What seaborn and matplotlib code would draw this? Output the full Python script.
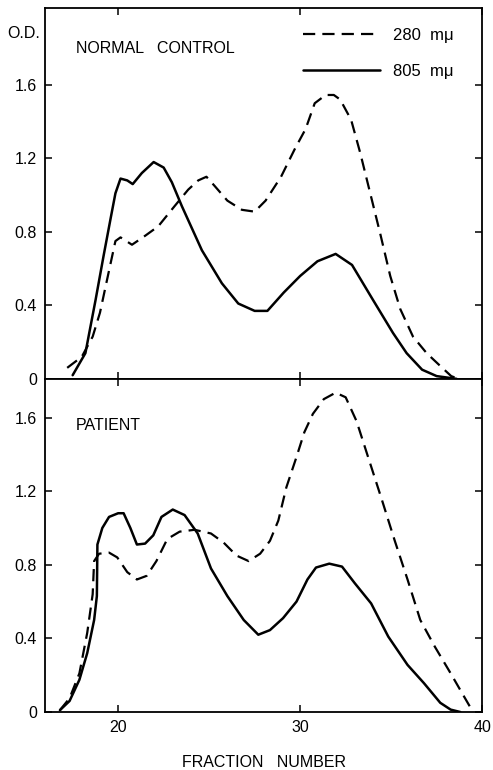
import numpy as np
import pandas as pd
import matplotlib
matplotlib.use('Agg')
import matplotlib.pyplot as plt
import seaborn as sns

# Values (fraction number vs O.D.)
ctrl_280_x = [17.2, 18.0, 18.6, 19.0, 19.5, 19.85, 20.13, 20.76, 21.5, 22.2, 23.1, 23.85,
              24.4, 24.85, 25.3, 26.0, 26.8, 27.5, 28.1, 28.95, 29.7, 30.3, 30.8, 31.4,
              31.85, 32.2, 32.8, 33.3, 33.85, 34.4, 34.95, 35.5, 36.2, 36.95, 37.7, 38.3,
              38.7]
ctrl_280_y = [0.06, 0.12, 0.23, 0.36, 0.59, 0.75, 0.77, 0.73, 0.78, 0.83, 0.94, 1.03,
              1.08, 1.10, 1.05, 0.97, 0.92, 0.91, 0.97, 1.10, 1.25, 1.36, 1.50, 1.545,
              1.545, 1.52, 1.41, 1.23, 1.01, 0.79, 0.56, 0.38, 0.23, 0.14, 0.07, 0.015,
              0.0]

ctrl_805_x = [17.5, 18.2, 18.76, 19.2, 19.58, 19.85, 20.13, 20.5, 20.8, 21.3, 21.95, 22.5,
              22.95, 23.5, 24.6, 25.7, 26.6, 27.5, 28.2, 29.1, 30.0, 30.95, 31.95, 32.85,
              34.0, 35.1, 35.85, 36.7, 37.5, 38.6]
ctrl_805_y = [0.02, 0.14, 0.43, 0.67, 0.87, 1.01, 1.09, 1.08, 1.06, 1.12, 1.18, 1.15,
              1.07, 0.94, 0.70, 0.52, 0.41, 0.37, 0.37, 0.47, 0.56, 0.64, 0.68, 0.62,
              0.43, 0.25, 0.14, 0.05, 0.015, 0.0]

pat_280_x = [16.8, 17.33, 17.87, 18.3, 18.6, 18.68, 18.95, 19.5, 19.95, 20.5, 21.03, 21.57,
             22.1, 22.7, 23.38, 24.2, 25.1, 25.8, 26.5, 27.17, 27.8, 28.34, 28.8, 29.24,
             29.78, 30.23, 30.7, 31.3, 31.95, 32.5, 33.1, 33.75, 34.5, 35.2, 35.9, 36.6,
             37.4, 38.27, 39.0, 39.5]
pat_280_y = [0.01, 0.075, 0.21, 0.43, 0.64, 0.82, 0.86, 0.866, 0.84, 0.76, 0.72, 0.74,
             0.82, 0.94, 0.98, 0.99, 0.97, 0.92, 0.85, 0.82, 0.86, 0.93, 1.04, 1.22,
             1.38, 1.52, 1.62, 1.70, 1.735, 1.71, 1.58, 1.38, 1.15, 0.93, 0.72, 0.50,
             0.355, 0.21, 0.085, 0.0]

pat_805_x = [16.8, 17.33, 17.87, 18.3, 18.68, 18.83, 18.86, 19.13, 19.5, 20.0, 20.3, 20.67,
             21.03, 21.48, 21.93, 22.38, 23.0, 23.65, 24.37, 25.1, 26.0, 26.9, 27.7, 28.34,
             29.06, 29.8, 30.4, 30.87, 31.6, 32.3, 33.0, 33.9, 34.84, 35.9, 36.8, 37.7,
             38.27, 38.8]
pat_805_y = [0.01, 0.06, 0.175, 0.32, 0.50, 0.63, 0.91, 1.00, 1.06, 1.08, 1.08, 1.00,
             0.91, 0.915, 0.96, 1.06, 1.10, 1.07, 0.97, 0.78, 0.63, 0.50, 0.42, 0.445,
             0.51, 0.60, 0.72, 0.785, 0.806, 0.79, 0.70, 0.59, 0.41, 0.256, 0.157, 0.05,
             0.013, 0.0]

x_ticks = [20, 30, 40]
y_ticks = [0, 0.4, 0.8, 1.2, 1.6]
y_tick_labels = ['0', '0.4', '0.8', '1.2', '1.6']

sns.set_style('ticks')
plt.rcParams['font.family'] = ['Liberation Sans', 'DejaVu Sans']
plt.rcParams['text.color'] = 'black'
plt.rcParams['axes.labelcolor'] = 'black'
plt.rcParams['xtick.color'] = 'black'
plt.rcParams['ytick.color'] = 'black'

fig, (ax1, ax2) = plt.subplots(2, 1, figsize=(4.93, 7.70), dpi=100, sharex=True,
                               gridspec_kw={'height_ratios': [371, 333], 'hspace': 0})
fig.subplots_adjust(left=0.092, right=0.978, top=0.99, bottom=0.0753)

dash = (5.5, 3.2)
panels = [
    (ax1, ctrl_280_x, ctrl_280_y, ctrl_805_x, ctrl_805_y, 2.02, 'NORMAL   CONTROL'),
    (ax2, pat_280_x, pat_280_y, pat_805_x, pat_805_y, 1.81, 'PATIENT'),
]
for ax, x28, y28, x85, y85, ytop, name in panels:
    sns.lineplot(x=x28, y=y28, ax=ax, color='black', lw=1.6, sort=False,
                 label='280  m\u03bc')
    ax.lines[-1].set_dashes(dash)
    sns.lineplot(x=x85, y=y85, ax=ax, color='black', lw=1.8, sort=False,
                 label='805  m\u03bc')
    ax.set_xlim(16, 40)
    ax.set_ylim(0, ytop)
    ax.set_yticks(y_ticks)
    ax.set_yticklabels(y_tick_labels)
    ax.set_xticks(x_ticks)
    ax.tick_params(direction='in', length=5, width=1.1, labelsize=11.5,
                   top=True, right=True, pad=6)
    for sp in ax.spines.values():
        sp.set_linewidth(1.3)
        sp.set_color('black')
    ax.text(0.07, 0.89 if ax is ax1 else 0.86, name, transform=ax.transAxes,
            fontsize=11.5, ha='left', va='center')
    ax.set_ylabel('')

ax1.legend(loc='upper right', bbox_to_anchor=(0.97, 0.985), frameon=False,
           handlelength=4.6, fontsize=12, labelspacing=1.25, handletextpad=0.8)
ax2.get_legend().remove()

ax1.tick_params(labelbottom=False)
ax2.set_xlabel('FRACTION   NUMBER', fontsize=11.5, labelpad=14)
fig.text(0.015, 0.957, 'O.D.', fontsize=11.5, ha='left', va='center')

plt.savefig('out.png', dpi=100)
